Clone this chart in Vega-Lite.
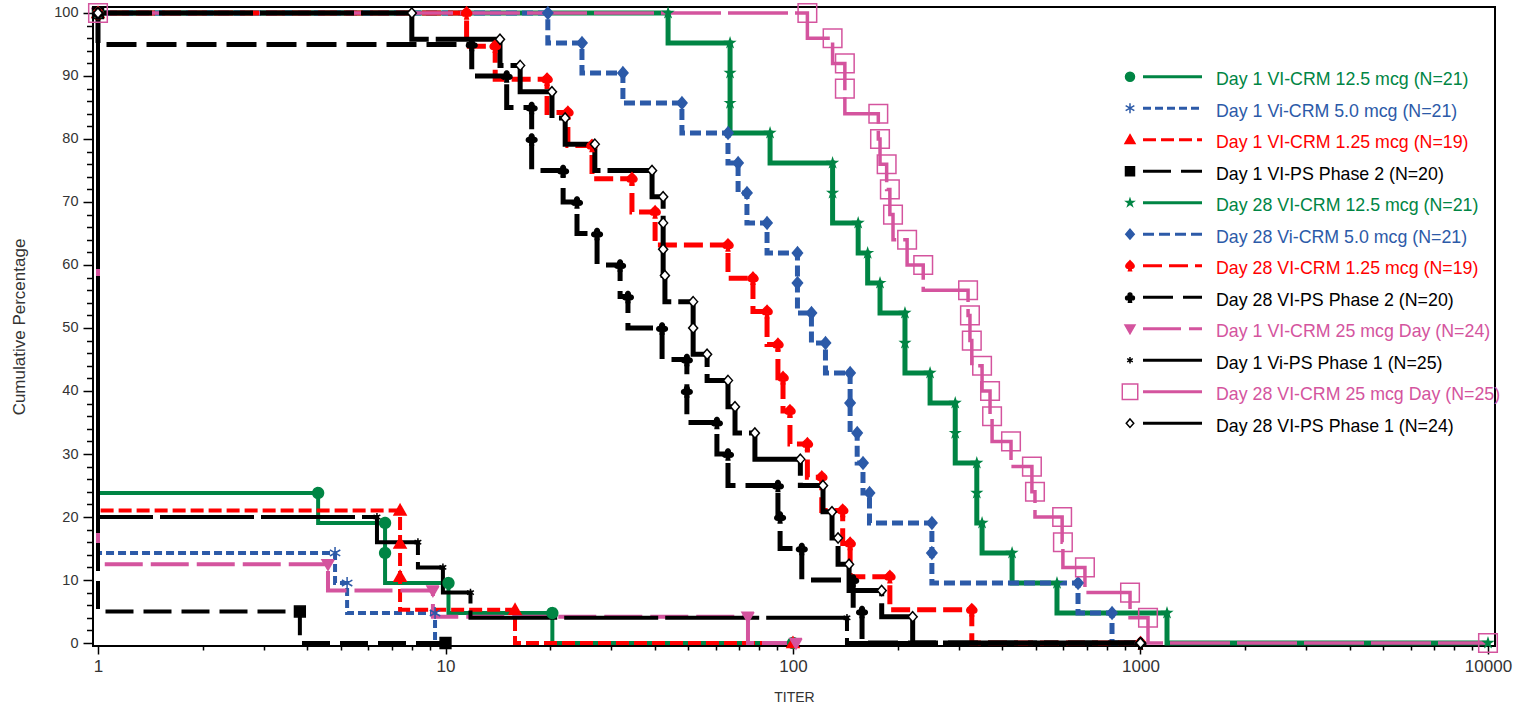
{
  "$schema": "https://vega.github.io/schema/vega-lite/v6.json",
  "width": 1402,
  "height": 639,
  "autosize": {"type": "none"},
  "padding": {"left": 93, "top": 7, "right": 27, "bottom": 63},
  "background": "white",
  "config": {"view": {"stroke": "black", "strokeWidth": 2}, "font": "Liberation Sans"},
  "data": {"values": [
    {"s":"Day 1 Vi-CRM 5.0 mcg (N=21)","titer":1,"pct":100},
    {"s":"Day 1 Vi-CRM 5.0 mcg (N=21)","titer":4.81,"pct":14.29},
    {"s":"Day 1 Vi-CRM 5.0 mcg (N=21)","titer":5.21,"pct":9.52},
    {"s":"Day 1 Vi-CRM 5.0 mcg (N=21)","titer":9.33,"pct":4.76},
    {"s":"Day 1 Vi-CRM 5.0 mcg (N=21)","titer":10,"pct":0},
    {"s":"Day 1 VI-CRM 12.5 mcg (N=21)","titer":1,"pct":100},
    {"s":"Day 1 VI-CRM 12.5 mcg (N=21)","titer":4.3,"pct":23.81},
    {"s":"Day 1 VI-CRM 12.5 mcg (N=21)","titer":6.7,"pct":19.05},
    {"s":"Day 1 VI-CRM 12.5 mcg (N=21)","titer":6.7,"pct":14.29},
    {"s":"Day 1 VI-CRM 12.5 mcg (N=21)","titer":10.2,"pct":9.52},
    {"s":"Day 1 VI-CRM 12.5 mcg (N=21)","titer":20.3,"pct":4.76},
    {"s":"Day 1 VI-CRM 12.5 mcg (N=21)","titer":100,"pct":0},
    {"s":"Day 1 VI-CRM 1.25 mcg (N=19)","titer":1,"pct":100},
    {"s":"Day 1 VI-CRM 1.25 mcg (N=19)","titer":7.4,"pct":21.05},
    {"s":"Day 1 VI-CRM 1.25 mcg (N=19)","titer":7.4,"pct":15.79},
    {"s":"Day 1 VI-CRM 1.25 mcg (N=19)","titer":7.4,"pct":10.53},
    {"s":"Day 1 VI-CRM 1.25 mcg (N=19)","titer":15.85,"pct":5.26},
    {"s":"Day 1 VI-CRM 1.25 mcg (N=19)","titer":100,"pct":0},
    {"s":"Day 1 VI-CRM 25 mcg Day (N=24)","titer":1,"pct":100},
    {"s":"Day 1 VI-CRM 25 mcg Day (N=24)","titer":4.59,"pct":12.5},
    {"s":"Day 1 VI-CRM 25 mcg Day (N=24)","titer":9.2,"pct":8.33},
    {"s":"Day 1 VI-CRM 25 mcg Day (N=24)","titer":74.2,"pct":4.17},
    {"s":"Day 1 VI-CRM 25 mcg Day (N=24)","titer":102,"pct":0},
    {"s":"Day 1 VI-PS Phase 2 (N=20)","titer":1,"pct":100},
    {"s":"Day 1 VI-PS Phase 2 (N=20)","titer":3.81,"pct":5},
    {"s":"Day 1 VI-PS Phase 2 (N=20)","titer":10,"pct":0},
    {"s":"Day 1 Vi-PS Phase 1 (N=25)","titer":1,"pct":100},
    {"s":"Day 1 Vi-PS Phase 1 (N=25)","titer":6.35,"pct":20},
    {"s":"Day 1 Vi-PS Phase 1 (N=25)","titer":8.33,"pct":16},
    {"s":"Day 1 Vi-PS Phase 1 (N=25)","titer":9.83,"pct":12},
    {"s":"Day 1 Vi-PS Phase 1 (N=25)","titer":11.8,"pct":8},
    {"s":"Day 1 Vi-PS Phase 1 (N=25)","titer":143,"pct":4},
    {"s":"Day 1 Vi-PS Phase 1 (N=25)","titer":1000,"pct":0},
    {"s":"Day 28 VI-CRM 12.5 mcg (N=21)","titer":1,"pct":100},
    {"s":"Day 28 VI-CRM 12.5 mcg (N=21)","titer":43.7,"pct":100},
    {"s":"Day 28 VI-CRM 12.5 mcg (N=21)","titer":65.9,"pct":95.24},
    {"s":"Day 28 VI-CRM 12.5 mcg (N=21)","titer":65.9,"pct":90.48},
    {"s":"Day 28 VI-CRM 12.5 mcg (N=21)","titer":65.9,"pct":85.71},
    {"s":"Day 28 VI-CRM 12.5 mcg (N=21)","titer":85.9,"pct":80.95},
    {"s":"Day 28 VI-CRM 12.5 mcg (N=21)","titer":130,"pct":76.19},
    {"s":"Day 28 VI-CRM 12.5 mcg (N=21)","titer":130,"pct":71.43},
    {"s":"Day 28 VI-CRM 12.5 mcg (N=21)","titer":154,"pct":66.67},
    {"s":"Day 28 VI-CRM 12.5 mcg (N=21)","titer":164,"pct":61.9},
    {"s":"Day 28 VI-CRM 12.5 mcg (N=21)","titer":178,"pct":57.14},
    {"s":"Day 28 VI-CRM 12.5 mcg (N=21)","titer":210,"pct":52.38},
    {"s":"Day 28 VI-CRM 12.5 mcg (N=21)","titer":210,"pct":47.62},
    {"s":"Day 28 VI-CRM 12.5 mcg (N=21)","titer":248,"pct":42.86},
    {"s":"Day 28 VI-CRM 12.5 mcg (N=21)","titer":293,"pct":38.1},
    {"s":"Day 28 VI-CRM 12.5 mcg (N=21)","titer":293,"pct":33.33},
    {"s":"Day 28 VI-CRM 12.5 mcg (N=21)","titer":338,"pct":28.57},
    {"s":"Day 28 VI-CRM 12.5 mcg (N=21)","titer":338,"pct":23.81},
    {"s":"Day 28 VI-CRM 12.5 mcg (N=21)","titer":350,"pct":19.05},
    {"s":"Day 28 VI-CRM 12.5 mcg (N=21)","titer":427,"pct":14.29},
    {"s":"Day 28 VI-CRM 12.5 mcg (N=21)","titer":575,"pct":9.52},
    {"s":"Day 28 VI-CRM 12.5 mcg (N=21)","titer":1192,"pct":4.76},
    {"s":"Day 28 VI-CRM 12.5 mcg (N=21)","titer":10000,"pct":0},
    {"s":"Day 28 Vi-CRM 5.0 mcg (N=21)","titer":1,"pct":100},
    {"s":"Day 28 Vi-CRM 5.0 mcg (N=21)","titer":19.7,"pct":100},
    {"s":"Day 28 Vi-CRM 5.0 mcg (N=21)","titer":24.7,"pct":95.24},
    {"s":"Day 28 Vi-CRM 5.0 mcg (N=21)","titer":32.4,"pct":90.48},
    {"s":"Day 28 Vi-CRM 5.0 mcg (N=21)","titer":47.9,"pct":85.71},
    {"s":"Day 28 Vi-CRM 5.0 mcg (N=21)","titer":65,"pct":80.95},
    {"s":"Day 28 Vi-CRM 5.0 mcg (N=21)","titer":69.5,"pct":76.19},
    {"s":"Day 28 Vi-CRM 5.0 mcg (N=21)","titer":73.7,"pct":71.43},
    {"s":"Day 28 Vi-CRM 5.0 mcg (N=21)","titer":84.2,"pct":66.67},
    {"s":"Day 28 Vi-CRM 5.0 mcg (N=21)","titer":103,"pct":61.9},
    {"s":"Day 28 Vi-CRM 5.0 mcg (N=21)","titer":103,"pct":57.14},
    {"s":"Day 28 Vi-CRM 5.0 mcg (N=21)","titer":113,"pct":52.38},
    {"s":"Day 28 Vi-CRM 5.0 mcg (N=21)","titer":124,"pct":47.62},
    {"s":"Day 28 Vi-CRM 5.0 mcg (N=21)","titer":146,"pct":42.86},
    {"s":"Day 28 Vi-CRM 5.0 mcg (N=21)","titer":146,"pct":38.1},
    {"s":"Day 28 Vi-CRM 5.0 mcg (N=21)","titer":153,"pct":33.33},
    {"s":"Day 28 Vi-CRM 5.0 mcg (N=21)","titer":159,"pct":28.57},
    {"s":"Day 28 Vi-CRM 5.0 mcg (N=21)","titer":166,"pct":23.81},
    {"s":"Day 28 Vi-CRM 5.0 mcg (N=21)","titer":251,"pct":19.05},
    {"s":"Day 28 Vi-CRM 5.0 mcg (N=21)","titer":251,"pct":14.29},
    {"s":"Day 28 Vi-CRM 5.0 mcg (N=21)","titer":661,"pct":9.52},
    {"s":"Day 28 Vi-CRM 5.0 mcg (N=21)","titer":828,"pct":4.76},
    {"s":"Day 28 Vi-CRM 5.0 mcg (N=21)","titer":1000,"pct":0},
    {"s":"Day 28 VI-CRM 1.25 mcg (N=19)","titer":1,"pct":100},
    {"s":"Day 28 VI-CRM 1.25 mcg (N=19)","titer":11.5,"pct":100},
    {"s":"Day 28 VI-CRM 1.25 mcg (N=19)","titer":13.9,"pct":94.74},
    {"s":"Day 28 VI-CRM 1.25 mcg (N=19)","titer":19.6,"pct":89.47},
    {"s":"Day 28 VI-CRM 1.25 mcg (N=19)","titer":22.5,"pct":84.21},
    {"s":"Day 28 VI-CRM 1.25 mcg (N=19)","titer":26.4,"pct":78.95},
    {"s":"Day 28 VI-CRM 1.25 mcg (N=19)","titer":34.4,"pct":73.68},
    {"s":"Day 28 VI-CRM 1.25 mcg (N=19)","titer":40.1,"pct":68.42},
    {"s":"Day 28 VI-CRM 1.25 mcg (N=19)","titer":65,"pct":63.16},
    {"s":"Day 28 VI-CRM 1.25 mcg (N=19)","titer":76.7,"pct":57.89},
    {"s":"Day 28 VI-CRM 1.25 mcg (N=19)","titer":84.2,"pct":52.63},
    {"s":"Day 28 VI-CRM 1.25 mcg (N=19)","titer":90.5,"pct":47.37},
    {"s":"Day 28 VI-CRM 1.25 mcg (N=19)","titer":93.6,"pct":42.11},
    {"s":"Day 28 VI-CRM 1.25 mcg (N=19)","titer":98,"pct":36.84},
    {"s":"Day 28 VI-CRM 1.25 mcg (N=19)","titer":110,"pct":31.58},
    {"s":"Day 28 VI-CRM 1.25 mcg (N=19)","titer":121,"pct":26.32},
    {"s":"Day 28 VI-CRM 1.25 mcg (N=19)","titer":139,"pct":21.05},
    {"s":"Day 28 VI-CRM 1.25 mcg (N=19)","titer":146,"pct":15.79},
    {"s":"Day 28 VI-CRM 1.25 mcg (N=19)","titer":190,"pct":10.53},
    {"s":"Day 28 VI-CRM 1.25 mcg (N=19)","titer":327,"pct":5.26},
    {"s":"Day 28 VI-CRM 1.25 mcg (N=19)","titer":1000,"pct":0},
    {"s":"Day 28 VI-CRM 25 mcg Day (N=25)","titer":1,"pct":100},
    {"s":"Day 28 VI-CRM 25 mcg Day (N=25)","titer":110,"pct":100},
    {"s":"Day 28 VI-CRM 25 mcg Day (N=25)","titer":130,"pct":96},
    {"s":"Day 28 VI-CRM 25 mcg Day (N=25)","titer":141,"pct":92},
    {"s":"Day 28 VI-CRM 25 mcg Day (N=25)","titer":141,"pct":88},
    {"s":"Day 28 VI-CRM 25 mcg Day (N=25)","titer":176,"pct":84},
    {"s":"Day 28 VI-CRM 25 mcg Day (N=25)","titer":178,"pct":80},
    {"s":"Day 28 VI-CRM 25 mcg Day (N=25)","titer":186,"pct":76},
    {"s":"Day 28 VI-CRM 25 mcg Day (N=25)","titer":190,"pct":72},
    {"s":"Day 28 VI-CRM 25 mcg Day (N=25)","titer":194,"pct":68},
    {"s":"Day 28 VI-CRM 25 mcg Day (N=25)","titer":213,"pct":64},
    {"s":"Day 28 VI-CRM 25 mcg Day (N=25)","titer":237,"pct":60},
    {"s":"Day 28 VI-CRM 25 mcg Day (N=25)","titer":319,"pct":56},
    {"s":"Day 28 VI-CRM 25 mcg Day (N=25)","titer":323,"pct":52},
    {"s":"Day 28 VI-CRM 25 mcg Day (N=25)","titer":327,"pct":48},
    {"s":"Day 28 VI-CRM 25 mcg Day (N=25)","titer":350,"pct":44},
    {"s":"Day 28 VI-CRM 25 mcg Day (N=25)","titer":369,"pct":40},
    {"s":"Day 28 VI-CRM 25 mcg Day (N=25)","titer":374,"pct":36},
    {"s":"Day 28 VI-CRM 25 mcg Day (N=25)","titer":424,"pct":32},
    {"s":"Day 28 VI-CRM 25 mcg Day (N=25)","titer":487,"pct":28},
    {"s":"Day 28 VI-CRM 25 mcg Day (N=25)","titer":497,"pct":24},
    {"s":"Day 28 VI-CRM 25 mcg Day (N=25)","titer":595,"pct":20},
    {"s":"Day 28 VI-CRM 25 mcg Day (N=25)","titer":598,"pct":16},
    {"s":"Day 28 VI-CRM 25 mcg Day (N=25)","titer":692,"pct":12},
    {"s":"Day 28 VI-CRM 25 mcg Day (N=25)","titer":933,"pct":8},
    {"s":"Day 28 VI-CRM 25 mcg Day (N=25)","titer":1051,"pct":4},
    {"s":"Day 28 VI-CRM 25 mcg Day (N=25)","titer":10000,"pct":0},
    {"s":"Day 28 VI-PS Phase 2 (N=20)","titer":1,"pct":100},
    {"s":"Day 28 VI-PS Phase 2 (N=20)","titer":11.9,"pct":95},
    {"s":"Day 28 VI-PS Phase 2 (N=20)","titer":15,"pct":90},
    {"s":"Day 28 VI-PS Phase 2 (N=20)","titer":17.7,"pct":85},
    {"s":"Day 28 VI-PS Phase 2 (N=20)","titer":17.7,"pct":80},
    {"s":"Day 28 VI-PS Phase 2 (N=20)","titer":21.8,"pct":75},
    {"s":"Day 28 VI-PS Phase 2 (N=20)","titer":23.9,"pct":70},
    {"s":"Day 28 VI-PS Phase 2 (N=20)","titer":27.3,"pct":65},
    {"s":"Day 28 VI-PS Phase 2 (N=20)","titer":31.8,"pct":60},
    {"s":"Day 28 VI-PS Phase 2 (N=20)","titer":33.5,"pct":55},
    {"s":"Day 28 VI-PS Phase 2 (N=20)","titer":42,"pct":50},
    {"s":"Day 28 VI-PS Phase 2 (N=20)","titer":49.5,"pct":45},
    {"s":"Day 28 VI-PS Phase 2 (N=20)","titer":49.5,"pct":40},
    {"s":"Day 28 VI-PS Phase 2 (N=20)","titer":60.4,"pct":35},
    {"s":"Day 28 VI-PS Phase 2 (N=20)","titer":65,"pct":30},
    {"s":"Day 28 VI-PS Phase 2 (N=20)","titer":90.5,"pct":25},
    {"s":"Day 28 VI-PS Phase 2 (N=20)","titer":91.8,"pct":20},
    {"s":"Day 28 VI-PS Phase 2 (N=20)","titer":106,"pct":15},
    {"s":"Day 28 VI-PS Phase 2 (N=20)","titer":149,"pct":10},
    {"s":"Day 28 VI-PS Phase 2 (N=20)","titer":158,"pct":5},
    {"s":"Day 28 VI-PS Phase 2 (N=20)","titer":1000,"pct":0},
    {"s":"Day 28 VI-PS Phase 1 (N=24)","titer":1,"pct":100},
    {"s":"Day 28 VI-PS Phase 1 (N=24)","titer":8,"pct":100},
    {"s":"Day 28 VI-PS Phase 1 (N=24)","titer":14.35,"pct":95.83},
    {"s":"Day 28 VI-PS Phase 1 (N=24)","titer":16.4,"pct":91.67},
    {"s":"Day 28 VI-PS Phase 1 (N=24)","titer":20.25,"pct":87.5},
    {"s":"Day 28 VI-PS Phase 1 (N=24)","titer":22.1,"pct":83.33},
    {"s":"Day 28 VI-PS Phase 1 (N=24)","titer":26.9,"pct":79.17},
    {"s":"Day 28 VI-PS Phase 1 (N=24)","titer":39.3,"pct":75},
    {"s":"Day 28 VI-PS Phase 1 (N=24)","titer":42.3,"pct":70.83},
    {"s":"Day 28 VI-PS Phase 1 (N=24)","titer":42.3,"pct":66.67},
    {"s":"Day 28 VI-PS Phase 1 (N=24)","titer":42.3,"pct":62.5},
    {"s":"Day 28 VI-PS Phase 1 (N=24)","titer":42.8,"pct":58.33},
    {"s":"Day 28 VI-PS Phase 1 (N=24)","titer":51.6,"pct":54.17},
    {"s":"Day 28 VI-PS Phase 1 (N=24)","titer":51.6,"pct":50},
    {"s":"Day 28 VI-PS Phase 1 (N=24)","titer":56.6,"pct":45.83},
    {"s":"Day 28 VI-PS Phase 1 (N=24)","titer":65,"pct":41.67},
    {"s":"Day 28 VI-PS Phase 1 (N=24)","titer":68.1,"pct":37.5},
    {"s":"Day 28 VI-PS Phase 1 (N=24)","titer":77.7,"pct":33.33},
    {"s":"Day 28 VI-PS Phase 1 (N=24)","titer":105,"pct":29.17},
    {"s":"Day 28 VI-PS Phase 1 (N=24)","titer":122,"pct":25},
    {"s":"Day 28 VI-PS Phase 1 (N=24)","titer":129.5,"pct":20.83},
    {"s":"Day 28 VI-PS Phase 1 (N=24)","titer":134.8,"pct":16.67},
    {"s":"Day 28 VI-PS Phase 1 (N=24)","titer":145,"pct":12.5},
    {"s":"Day 28 VI-PS Phase 1 (N=24)","titer":180,"pct":8.33},
    {"s":"Day 28 VI-PS Phase 1 (N=24)","titer":221,"pct":4.17},
    {"s":"Day 28 VI-PS Phase 1 (N=24)","titer":1000,"pct":0}
  ]},
  "encoding": {
    "x": {
      "field": "titer", "type": "quantitative",
      "scale": {"type": "log", "domain": [0.9674, 10475], "nice": false},
      "axis": {
        "title": "TITER",
        "values": [1,2,3,4,5,6,7,8,9,10,20,30,40,50,60,70,80,90,100,200,300,400,500,600,700,800,900,1000,2000,3000,4000,5000,6000,7000,8000,9000,10000],
        "labelExpr": "indexof([1,10,100,1000,10000], datum.value) >= 0 ? format(datum.value, 'd') : ''",
        "tickSize": {"condition": {"test": "indexof([1,10,100,1000,10000], datum.value) >= 0", "value": 8}, "value": 4},
        "tickColor": "black", "tickWidth": 1.5, "domain": false, "grid": false,
        "labelFont": "Liberation Sans", "labelFontSize": 17, "labelColor": "#333",
        "labelPadding": 4, "labelFlush": false, "labelOverlap": false,
        "titleFont": "Liberation Sans", "titleFontSize": 14, "titleFontWeight": "normal", "titleColor": "#333", "titlePadding": 16
      }
    },
    "y": {
      "field": "pct", "type": "quantitative",
      "scale": {"domain": [-0.476, 100.952], "nice": false, "zero": false},
      "axis": {
        "title": "Cumulative Percentage",
        "values": [0,2,4,6,8,10,12,14,16,18,20,22,24,26,28,30,32,34,36,38,40,42,44,46,48,50,52,54,56,58,60,62,64,66,68,70,72,74,76,78,80,82,84,86,88,90,92,94,96,98,100],
        "labelExpr": "datum.value % 10 === 0 ? datum.label : ''",
        "tickSize": {"condition": {"test": "datum.value % 10 === 0", "value": 10}, "value": 6.5},
        "tickColor": "black", "tickWidth": 1.5, "domain": false, "grid": false,
        "labelFont": "Liberation Sans", "labelFontSize": 14.5, "labelColor": "#333",
        "labelPadding": 5, "labelOverlap": false,
        "titleFont": "Liberation Sans", "titleFontSize": 17, "titleFontWeight": "normal", "titleColor": "#333", "titlePadding": 25
      }
    },
    "stroke": {
      "field": "s", "type": "nominal",
      "scale": {
        "domain": ["Day 1 VI-CRM 12.5 mcg (N=21)","Day 1 Vi-CRM 5.0 mcg (N=21)","Day 1 VI-CRM 1.25 mcg (N=19)","Day 1 VI-PS Phase 2 (N=20)","Day 28 VI-CRM 12.5 mcg (N=21)","Day 28 Vi-CRM 5.0 mcg (N=21)","Day 28 VI-CRM 1.25 mcg (N=19)","Day 28 VI-PS Phase 2 (N=20)","Day 1 VI-CRM 25 mcg Day (N=24)","Day 1 Vi-PS Phase 1 (N=25)","Day 28 VI-CRM 25 mcg Day (N=25)","Day 28 VI-PS Phase 1 (N=24)"],
        "range": ["#008544","#2c5aa8","#ff0000","#000000","#008544","#2c5aa8","#ff0000","#000000","#d4549e","#000000","#d4549e","#000000"]
      },
      "legend": {
        "orient": "none", "legendX": 1048.5, "legendY": 56.7, "direction": "vertical", "title": null, "padding": 0,
        "symbolType": "stroke", "symbolSize": 3481, "symbolStrokeWidth": 3, "clipHeight": 26, "rowPadding": 5.5,
        "labelFont": "Liberation Sans", "labelFontSize": 17.8, "labelOffset": 12.5, "labelLimit": 400,
        "encode": {
          "labels": {"update": {"fill": {"signal": "scale('stroke', datum.value)"}, "y": {"value": 16.5}}},
          "symbols": {"update": {"strokeWidth": {"value": 3}, "opacity": {"value": 1}}}
        }
      }
    },
    "strokeDash": {
      "field": "s", "type": "nominal",
      "scale": {
        "domain": ["Day 1 VI-CRM 12.5 mcg (N=21)","Day 1 Vi-CRM 5.0 mcg (N=21)","Day 1 VI-CRM 1.25 mcg (N=19)","Day 1 VI-PS Phase 2 (N=20)","Day 28 VI-CRM 12.5 mcg (N=21)","Day 28 Vi-CRM 5.0 mcg (N=21)","Day 28 VI-CRM 1.25 mcg (N=19)","Day 28 VI-PS Phase 2 (N=20)","Day 1 VI-CRM 25 mcg Day (N=24)","Day 1 Vi-PS Phase 1 (N=25)","Day 28 VI-CRM 25 mcg Day (N=25)","Day 28 VI-PS Phase 1 (N=24)"],
        "range": [[1,0],[8,4],[13,5],[28,10],[1,0],[11,5],[19,7],[30,10],[38,8],[94,7],[60,7],[94,7]]
      },
      "legend": {
        "orient": "none", "legendX": 1048.5, "legendY": 56.7, "direction": "vertical", "title": null, "padding": 0,
        "symbolType": "stroke", "symbolSize": 3481, "symbolStrokeWidth": 3, "clipHeight": 26, "rowPadding": 5.5,
        "labelFont": "Liberation Sans", "labelFontSize": 17.8, "labelOffset": 12.5, "labelLimit": 400
      }
    }
  },
  "layer": [
    {
      "transform": [{"filter": {"field": "s", "oneOf": ["Day 1 Vi-CRM 5.0 mcg (N=21)","Day 1 VI-CRM 12.5 mcg (N=21)","Day 1 VI-CRM 1.25 mcg (N=19)","Day 1 VI-CRM 25 mcg Day (N=24)","Day 1 VI-PS Phase 2 (N=20)","Day 1 Vi-PS Phase 1 (N=25)"]}}],
      "mark": {"type": "line", "interpolate": "step-before", "strokeWidth": 4, "strokeDashOffset": 40},
      "encoding": {"order": {"value": null}}
    },
    {
      "transform": [{"filter": {"field": "s", "oneOf": ["Day 28 VI-CRM 12.5 mcg (N=21)","Day 28 Vi-CRM 5.0 mcg (N=21)","Day 28 VI-CRM 1.25 mcg (N=19)"]}}],
      "mark": {"type": "line", "interpolate": "step-before", "strokeWidth": 5, "strokeDashOffset": 40},
      "encoding": {"order": {"value": null}}
    },
    {
      "transform": [{"filter": {"field": "s", "oneOf": ["Day 28 VI-CRM 25 mcg Day (N=25)"]}}],
      "mark": {"type": "line", "interpolate": "step-before", "strokeWidth": 3.5, "strokeDashOffset": 40},
      "encoding": {"order": {"value": null}}
    },
    {
      "transform": [{"filter": {"field": "s", "oneOf": ["Day 28 VI-PS Phase 2 (N=20)","Day 28 VI-PS Phase 1 (N=24)"]}}],
      "mark": {"type": "line", "interpolate": "step-before", "strokeWidth": 5, "strokeDashOffset": 40},
      "encoding": {"order": {"value": null}}
    },
    {
      "mark": {"type": "point", "filled": true, "size": 144, "strokeWidth": 1.5, "opacity": 1},
      "encoding": {
        "strokeDash": {"value": [1, 0]},
        "fill": {
          "field": "s", "type": "nominal", "legend": null,
          "scale": {
            "domain": ["Day 1 VI-CRM 12.5 mcg (N=21)","Day 1 Vi-CRM 5.0 mcg (N=21)","Day 1 VI-CRM 1.25 mcg (N=19)","Day 1 VI-PS Phase 2 (N=20)","Day 28 VI-CRM 12.5 mcg (N=21)","Day 28 Vi-CRM 5.0 mcg (N=21)","Day 28 VI-CRM 1.25 mcg (N=19)","Day 28 VI-PS Phase 2 (N=20)","Day 1 VI-CRM 25 mcg Day (N=24)","Day 1 Vi-PS Phase 1 (N=25)","Day 28 VI-CRM 25 mcg Day (N=25)","Day 28 VI-PS Phase 1 (N=24)"],
            "range": ["#008544","transparent","#ff0000","#000000","#008544","#2c5aa8","#ff0000","#000000","#d4549e","transparent","transparent","#ffffff"]
          }
        },
        "shape": {
          "field": "s", "type": "nominal",
          "sort": ["Day 1 VI-CRM 12.5 mcg (N=21)","Day 1 Vi-CRM 5.0 mcg (N=21)","Day 1 VI-CRM 1.25 mcg (N=19)","Day 1 VI-PS Phase 2 (N=20)","Day 28 VI-CRM 12.5 mcg (N=21)","Day 28 Vi-CRM 5.0 mcg (N=21)","Day 28 VI-CRM 1.25 mcg (N=19)","Day 28 VI-PS Phase 2 (N=20)","Day 1 VI-CRM 25 mcg Day (N=24)","Day 1 Vi-PS Phase 1 (N=25)","Day 28 VI-CRM 25 mcg Day (N=25)","Day 28 VI-PS Phase 1 (N=24)"],
          "scale": {
            "range": [
              "M-0.9,0A0.9,0.9 0 1,1 0.9,0A0.9,0.9 0 1,1 -0.9,0Z",
              "M0,-1L0,1M-0.87,-0.5L0.87,0.5M-0.87,0.5L0.87,-0.5",
              "M0,-1L1,0.75L-1,0.75Z",
              "M-0.9,-0.9L0.9,-0.9L0.9,0.9L-0.9,0.9Z",
              "M0,-0.75L0.168,-0.232L0.713,-0.232L0.272,0.089L0.441,0.607L0,0.287L-0.441,0.607L-0.272,0.089L-0.713,-0.232L-0.168,-0.232Z",
              "M0,-1L0.85,0L0,1L-0.85,0Z",
              "M0,-1C0.35,-0.55 1,-0.25 0.8,0.25C0.65,0.6 0.3,0.55 0.12,0.35L0.3,1L-0.3,1L-0.12,0.35C-0.3,0.55 -0.65,0.6 -0.8,0.25C-1,-0.25 -0.35,-0.55 0,-1Z",
              "M-0.38,-0.45A0.38,0.38 0 1,1 0.38,-0.45A0.38,0.38 0 1,1 -0.38,-0.45ZM-0.88,0.15A0.38,0.38 0 1,1 -0.12,0.15A0.38,0.38 0 1,1 -0.88,0.15ZM0.12,0.15A0.38,0.38 0 1,1 0.88,0.15A0.38,0.38 0 1,1 0.12,0.15ZM-0.15,0L0.15,0L0.3,1L-0.3,1Z",
              "M-1,-0.75L1,-0.75L0,1Z",
              "M0,-0.65L0,0.65M-0.56,-0.33L0.56,0.33M-0.56,0.33L0.56,-0.33",
              "M-1.55,-1.55L1.55,-1.55L1.55,1.55L-1.55,1.55Z",
              "M0,-0.85L0.75,0L0,0.85L-0.75,0Z"
            ]
          },
          "legend": {
            "orient": "none", "legendX": 1028.1, "legendY": 56.7, "direction": "vertical", "title": null, "padding": 0,
            "symbolSize": 100, "clipHeight": 26, "rowPadding": 5.5, "labelExpr": "''", "labelFontSize": 17.8,
            "symbolFillColor": {"expr": "scale('fill', datum.value)"},
            "symbolStrokeColor": {"expr": "scale('stroke', datum.value)"},
            "symbolStrokeWidth": 1.5, "symbolOpacity": 1
          }
        }
      }
    }
  ]
}
